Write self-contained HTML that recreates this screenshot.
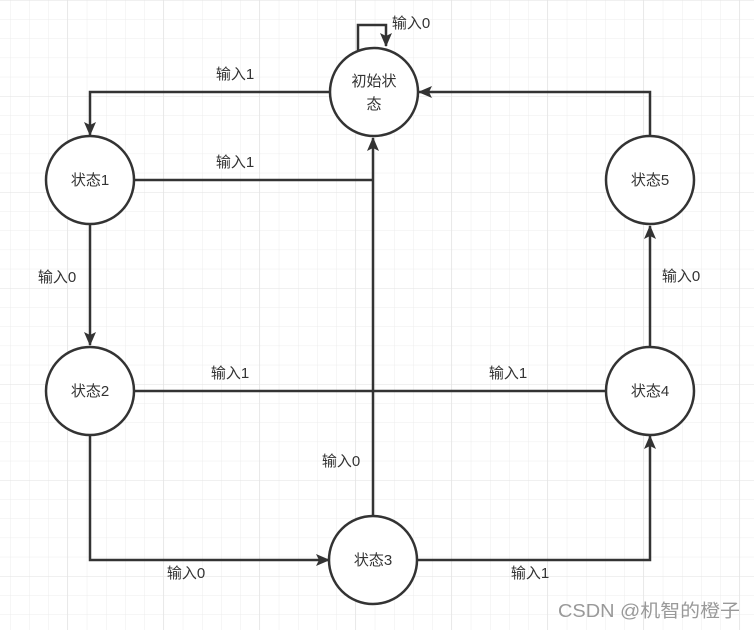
<!DOCTYPE html>
<html><head><meta charset="utf-8"><style>
html,body{margin:0;padding:0;background:#fff}
svg{display:block}
text{font-family:"Liberation Sans","Noto Sans CJK SC",sans-serif;font-size:15px;fill:#333}
</style></head><body>
<svg width="754" height="630" viewBox="0 0 754 630" xmlns="http://www.w3.org/2000/svg">
<defs>
<pattern id="g" x="10" y="0" width="19.2" height="19.2" patternUnits="userSpaceOnUse">
<path d="M0 0V19.2M0 0H19.2" stroke="#ececec" stroke-width="1" fill="none"/>
</pattern>
<pattern id="G" x="67" y="0" width="96" height="96" patternUnits="userSpaceOnUse">
<path d="M0 0V96M0 0H96" stroke="#e2e2e2" stroke-width="1" fill="none"/>
</pattern>
<marker id="a" markerWidth="14" markerHeight="12" refX="13" refY="6" orient="auto" markerUnits="userSpaceOnUse">
<path d="M0 0L14 6L0 12L3 6z" fill="#333"/>
</marker>
</defs>
<rect width="754" height="630" fill="url(#g)"/>
<rect width="754" height="630" fill="url(#G)"/>
<g stroke="#333" stroke-width="2.5" fill="none">
<path d="M358 50V25H386V46" marker-end="url(#a)"/>
<path d="M330 92H90V135" marker-end="url(#a)"/>
<path d="M135 180H372"/>
<path d="M373 515V138" marker-end="url(#a)"/>
<path d="M90 225V345" marker-end="url(#a)"/>
<path d="M135 391H606"/>
<path d="M90 435V560H329" marker-end="url(#a)"/>
<path d="M418 560H650V436" marker-end="url(#a)"/>
<path d="M650 347V226" marker-end="url(#a)"/>
<path d="M650 136V92H419" marker-end="url(#a)"/>
</g>
<g stroke="#333" stroke-width="2.5" fill="#fff">
<circle cx="374" cy="92" r="44"/>
<circle cx="90" cy="180" r="44"/>
<circle cx="90" cy="391" r="44"/>
<circle cx="373" cy="560" r="44"/>
<circle cx="650" cy="391" r="44"/>
<circle cx="650" cy="180" r="44"/>
</g>
<g text-anchor="middle">
<text x="374" y="86">初始状</text>
<text x="374" y="109">态</text>
<text x="90" y="185">状态1</text>
<text x="90" y="396">状态2</text>
<text x="373" y="565">状态3</text>
<text x="650" y="396">状态4</text>
<text x="650" y="185">状态5</text>
<text x="411" y="28">输入0</text>
<text x="235" y="79">输入1</text>
<text x="235" y="167">输入1</text>
<text x="57" y="282">输入0</text>
<text x="230" y="378">输入1</text>
<text x="508" y="378">输入1</text>
<text x="341" y="466">输入0</text>
<text x="186" y="578">输入0</text>
<text x="530" y="578">输入1</text>
<text x="681" y="281">输入0</text>
</g>
<text x="558" y="617" textLength="182" lengthAdjust="spacingAndGlyphs" style="font-size:18px;fill:#999">CSDN @机智的橙子</text>
</svg>
</body></html>
